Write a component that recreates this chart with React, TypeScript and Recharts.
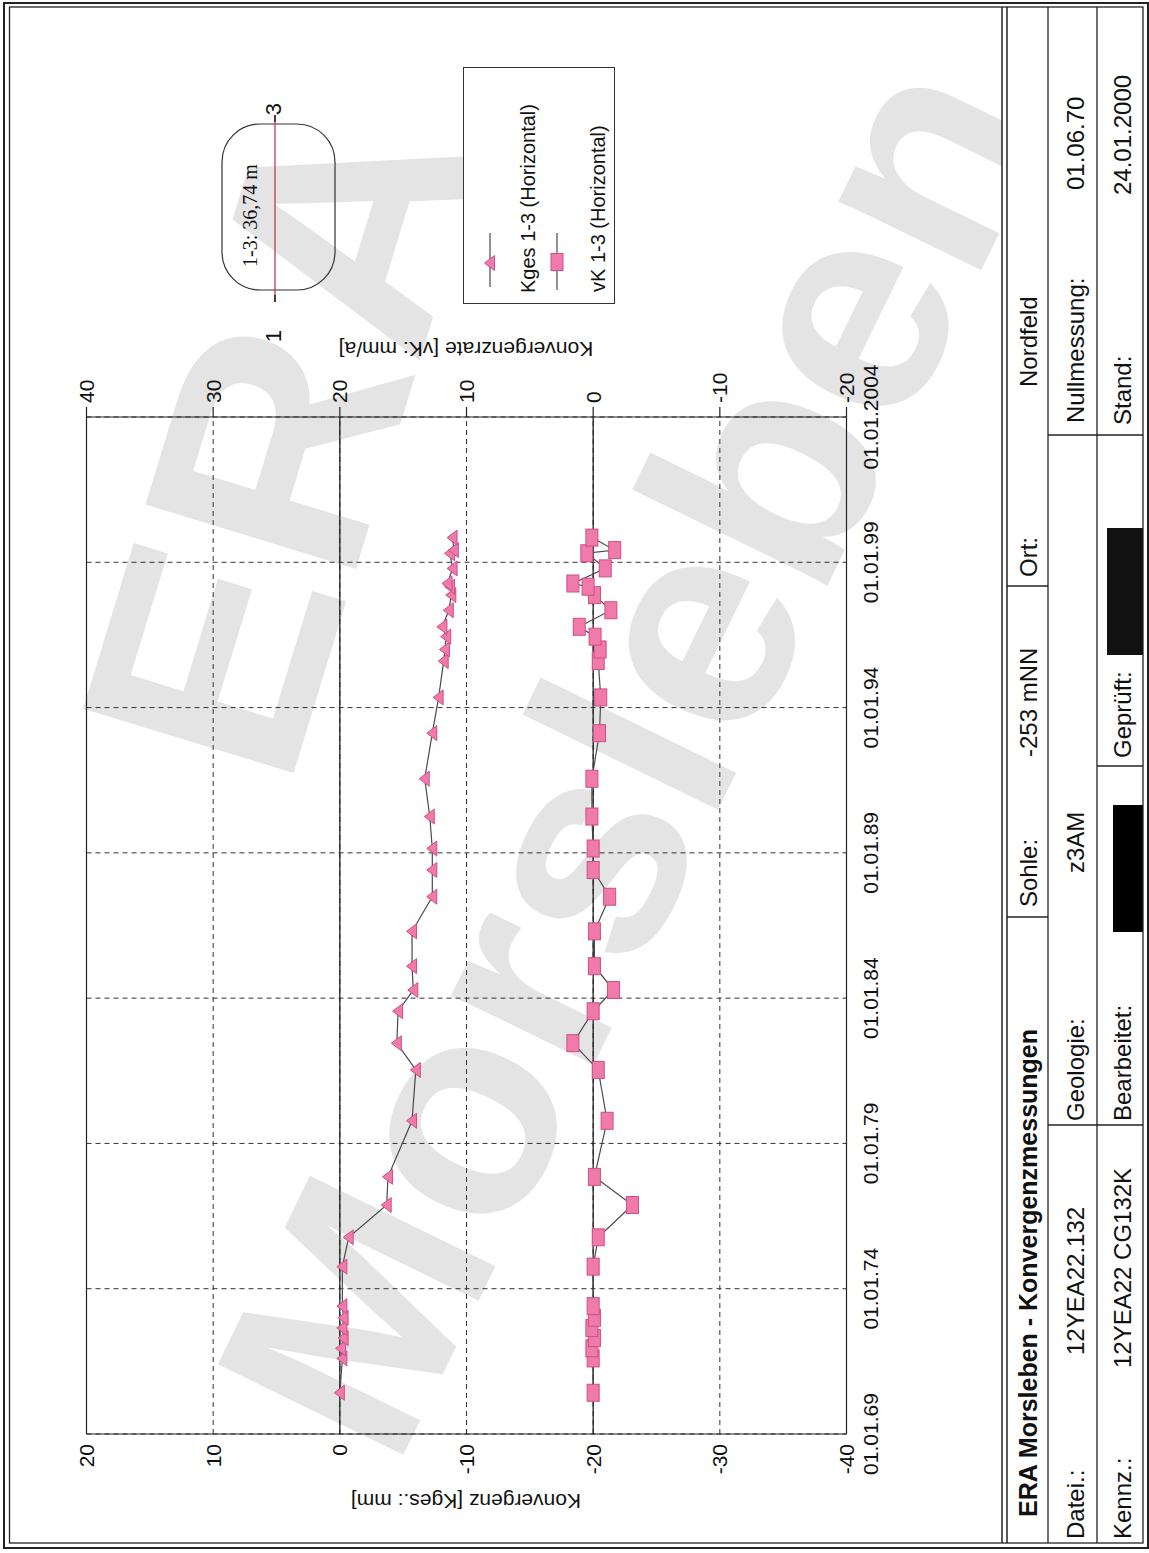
import React from 'react';
import { ComposedChart, Line, XAxis, YAxis, CartesianGrid, ReferenceLine, Legend } from 'recharts';

// ---------- data ----------
const measurementDates = [1970.42, 1971.6, 1971.95, 1972.3, 1972.65, 1973.0, 1973.4, 1974.76, 1975.77, 1976.88, 1977.85, 1979.78, 1981.53, 1982.45, 1983.55, 1984.28, 1985.1, 1986.3, 1987.49, 1988.41, 1989.15, 1990.25, 1991.55, 1993.12, 1994.35, 1995.6, 1996.0, 1996.44, 1996.78, 1997.35, 1997.87, 1998.16, 1998.27, 1998.79, 1999.31, 1999.42, 1999.85];
const kgesValues = [0, -0.2, -0.1, -0.3, -0.2, -0.3, -0.2, -0.2, -0.7, -3.7, -3.8, -5.7, -6.0, -4.5, -4.6, -5.8, -5.7, -5.7, -7.3, -7.3, -7.3, -7.1, -6.7, -7.3, -7.8, -8.2, -8.3, -8.4, -8.1, -8.6, -8.8, -8.7, -8.5, -8.9, -8.7, -9.0, -8.9];
const vkValues = [0, 0, 0.1, -0.1, 0.1, -0.1, 0, 0, -0.4, -3.1, -0.1, -1.1, -0.4, 1.6, 0, -1.6, -0.1, -0.1, -1.3, 0, 0, 0.1, 0.1, -0.5, -0.6, -0.4, -0.55, -0.15, 1.1, -1.4, -0.1, 0.4, 1.6, -0.95, 0.5, -1.7, 0.1];

const dateTicks = [1969, 1974, 1979, 1984, 1989, 1994, 1999, 2004];
const dateTickLabels = ['01.01.69', '01.01.74', '01.01.79', '01.01.84', '01.01.89', '01.01.94', '01.01.99', '01.01.2004'];
const kgesTicks = [-40, -30, -20, -10, 0, 10, 20];
const vkTicks = [-20, -10, 0, 10, 20, 30, 40];
const seriesNames = ['Kges 1-3 (Horizontal)', 'vK 1-3 (Horizontal)'];
const axisTitles = ['Konvergenz [Kges.: mm]', 'Konvergenzrate [vK: mm/a]'];

const data = measurementDates.map((t, i) => ({ t, kges: kgesValues[i], vk: vkValues[i] }));

// ---------- layout (landscape page, rotated onto the portrait canvas) ----------
const W = 1553;
const H = 1149;
const PLOT_LEFT = 119;
const PLOT_RIGHT = 1136;
const PLOT_TOP = 86.5;
const PLOT_BOTTOM = 846.5;
const YAXIS_W = 60;
const XAXIS_H = 40;
const FONT = '"Liberation Sans", Arial, sans-serif';
const SERIF = '"Liberation Serif", "Times New Roman", serif';
const PINK = '#f07aaa';
const PINK_DARK = '#cf4f87';
const LINE = '#4a4a4a';

const Tri = (p: any) => {
  const { cx, cy } = p;
  if (cx == null || cy == null) return null;
  return (
    <path
      key={`tri-${p.index}-${cx}`}
      d={`M${cx},${cy - 5.5} L${cx + 7.5},${cy + 4.5} L${cx - 7.5},${cy + 4.5} Z`}
      fill={PINK}
      stroke={PINK_DARK}
      strokeWidth={1}
    />
  );
};

const Sq = (p: any) => {
  const { cx, cy } = p;
  if (cx == null || cy == null) return null;
  return (
    <rect
      key={`sq-${p.index}-${cx}`}
      x={cx - 8.5}
      y={cy - 6}
      width={17}
      height={12}
      fill={PINK}
      stroke={PINK_DARK}
      strokeWidth={1}
    />
  );
};

const DateTick = (p: any) => {
  const i = dateTicks.indexOf(p.payload.value);
  return (
    <text x={p.x} y={PLOT_BOTTOM + 31} textAnchor="middle" fontSize={21} fill="#111" fontFamily={FONT}>
      {dateTickLabels[i]}
    </text>
  );
};

const LeftTick = (p: any) => (
  <text x={PLOT_LEFT - 10} y={p.y + 7.5} textAnchor="end" fontSize={21} fill="#111" fontFamily={FONT}>
    {p.payload.value}
  </text>
);

const RightTick = (p: any) => (
  <text x={PLOT_RIGHT + 14} y={p.y + 7.5} textAnchor="start" fontSize={21} fill="#111" fontFamily={FONT}>
    {p.payload.value}
  </text>
);

const LegendBox = () => (
  <svg width={237} height={152} style={{ display: 'block', overflow: 'visible' }}>
    <rect x={0.5} y={0.5} width={236} height={151} fill="#fff" stroke="#333" strokeWidth={1} />
    <line x1={17} x2={71} y1={27} y2={27} stroke={LINE} strokeWidth={1.2} />
    <Tri cx={41} cy={27} index={0} />
    <text x={11} y={72} fontSize={20} fill="#111" fontFamily={FONT}>{seriesNames[0]}</text>
    <line x1={14} x2={71} y1={94} y2={94} stroke={LINE} strokeWidth={1.2} />
    <Sq cx={42} cy={94} index={0} />
    <text x={12} y={142} fontSize={20} fill="#111" fontFamily={FONT}>{seriesNames[1]}</text>
  </svg>
);

const txt = (x: number, y: number, s: string, size = 24, weight: any = 'normal') => (
  <text x={x} y={y} fontSize={size} fontWeight={weight} fill="#111" fontFamily={FONT}>{s}</text>
);

export default function App() {
  return (
    <div style={{ position: 'absolute', left: 0, top: 0, width: 1149, height: 1553, overflow: 'hidden', background: '#fff' }}>
      <div
        style={{
          position: 'absolute',
          left: 0,
          top: 0,
          width: W,
          height: H,
          transformOrigin: '0 0',
          transform: `translateY(${W}px) rotate(-90deg)`,
        }}
      >
        {/* background: watermark */}
        <svg width={W} height={H} style={{ position: 'absolute', left: 0, top: 0 }}>
          <rect x={0} y={0} width={W} height={H} fill="#fff" />
          <text
            transform="translate(1115,280) rotate(17)"
            textAnchor="middle"
            dominantBaseline="central"
            fontSize={320}
            fontWeight="bold"
            fill="#e4e4e4"
            fontFamily={FONT}
          >
            ERA
          </text>
          <text
            transform="translate(800,630) rotate(26)"
            textAnchor="middle"
            dominantBaseline="central"
            fontSize={300}
            fontWeight="bold"
            fill="#e4e4e4"
            fontFamily={FONT}
          >
            Morsleben
          </text>
        </svg>

        {/* the chart */}
        <div style={{ position: 'absolute', left: 0, top: 0 }}>
          <ComposedChart
            width={W}
            height={H}
            data={data}
            margin={{
              left: PLOT_LEFT - YAXIS_W,
              right: W - PLOT_RIGHT - YAXIS_W,
              top: PLOT_TOP,
              bottom: H - PLOT_BOTTOM - XAXIS_H,
            }}
          >
            <CartesianGrid yAxisId="k" stroke="#333" strokeDasharray="5 4" strokeWidth={1} />
            <XAxis
              dataKey="t"
              type="number"
              domain={[1969, 2004]}
              ticks={dateTicks}
              allowDataOverflow
              height={XAXIS_H}
              tickSize={0}
              tickMargin={0}
              tickLine={false}
              axisLine={{ stroke: '#222', strokeWidth: 1.2 }}
              tick={<DateTick />}
              interval={0}
            />
            <YAxis
              yAxisId="k"
              orientation="left"
              domain={[-40, 20]}
              ticks={kgesTicks}
              allowDataOverflow
              width={YAXIS_W}
              tickSize={0}
              tickMargin={0}
              tickLine={false}
              axisLine={{ stroke: '#222', strokeWidth: 1.2 }}
              tick={<LeftTick />}
              interval={0}
            />
            <YAxis
              yAxisId="v"
              orientation="right"
              domain={[-20, 40]}
              ticks={vkTicks}
              allowDataOverflow
              width={YAXIS_W}
              tickSize={10}
              tickMargin={0}
              tickLine={{ stroke: '#222', strokeWidth: 1.2 }}
              axisLine={{ stroke: '#222', strokeWidth: 1.2 }}
              tick={<RightTick />}
              interval={0}
            />
            <ReferenceLine yAxisId="k" y={20} stroke="#222" strokeWidth={1.2} />
            <ReferenceLine yAxisId="k" y={0} stroke="#222" strokeWidth={1.3} />
            <ReferenceLine yAxisId="v" y={0} stroke="#222" strokeWidth={1.3} />
            <Legend
              layout="horizontal"
              verticalAlign="middle"
              align="center"
              wrapperStyle={{ position: 'absolute', left: 1249, top: 463, width: 237, height: 152 }}
              content={() => <LegendBox />}
            />
            <Line
              yAxisId="k"
              dataKey="kges"
              name={seriesNames[0]}
              stroke={LINE}
              strokeWidth={1.2}
              dot={(p: any) => <Tri {...p} />}
              activeDot={false}
              isAnimationActive={false}
            />
            <Line
              yAxisId="v"
              dataKey="vk"
              name={seriesNames[1]}
              stroke={LINE}
              strokeWidth={1.2}
              dot={(p: any) => <Sq {...p} />}
              activeDot={false}
              isAnimationActive={false}
            />
          </ComposedChart>
        </div>

        {/* foreground: axis titles, inset, frame, title block */}
        <svg width={W} height={H} style={{ position: 'absolute', left: 0, top: 0, pointerEvents: 'none' }}>
          <text transform="translate(52,466) rotate(-90)" textAnchor="middle" dominantBaseline="central" fontSize={21} fill="#111" fontFamily={FONT}>
            {axisTitles[0]}
          </text>
          <text transform="translate(1204,466) rotate(-90)" textAnchor="middle" dominantBaseline="central" fontSize={21} fill="#111" fontFamily={FONT}>
            {axisTitles[1]}
          </text>

          {/* cross-section inset */}
          <rect x={1263} y={222} width={166} height={113} rx={38} ry={38} fill="none" stroke="#333" strokeWidth={1.2} />
          <line x1={1251} x2={1438} y1={275} y2={275} stroke="#c23a50" strokeWidth={1.3} />
          <line x1={1251} x2={1258} y1={275} y2={275} stroke="#222" strokeWidth={1.5} />
          <line x1={1431} x2={1438} y1={275} y2={275} stroke="#222" strokeWidth={1.5} />
          <text x={1286} y={257} fontSize={20} fill="#111" fontFamily={SERIF}>1-3: 36,74 m</text>
          <text x={1217} y={281} textAnchor="middle" fontSize={22} fill="#111" fontFamily={FONT}>1</text>
          <text x={1444} y={281} textAnchor="middle" fontSize={22} fill="#111" fontFamily={FONT}>3</text>

          {/* title block */}
          <rect x={10} y={1002} width={1536} height={141} fill="#fff" />
          <line x1={10} x2={1546} y1={1002} y2={1002} stroke="#222" strokeWidth={1.5} />
          <line x1={10} x2={1546} y1={1007} y2={1007} stroke="#222" strokeWidth={1.5} />
          <line x1={10} x2={1546} y1={1048} y2={1048} stroke="#222" strokeWidth={1.3} />
          <line x1={10} x2={1546} y1={1097} y2={1097} stroke="#222" strokeWidth={1.3} />
          <line x1={636} x2={636} y1={1007} y2={1048} stroke="#222" strokeWidth={1.3} />
          <line x1={967} x2={967} y1={1007} y2={1048} stroke="#222" strokeWidth={1.3} />
          <line x1={428} x2={428} y1={1048} y2={1143} stroke="#222" strokeWidth={1.3} />
          <line x1={1118} x2={1118} y1={1048} y2={1143} stroke="#222" strokeWidth={1.3} />
          <line x1={787} x2={787} y1={1097} y2={1143} stroke="#222" strokeWidth={1.3} />

          {txt(36, 1037, 'ERA Morsleben - Konvergenzmessungen', 25, 'bold')}
          {txt(646, 1037, 'Sohle:')}
          {txt(796, 1037, '-253 mNN')}
          {txt(976, 1037, 'Ort:')}
          {txt(1166, 1037, 'Nordfeld')}

          {txt(14, 1084, 'Datei.:')}
          {txt(198, 1084, '12YEA22.132')}
          {txt(432, 1084, 'Geologie:')}
          {txt(680, 1084, 'z3AM')}
          {txt(1130, 1084, 'Nullmessung:')}
          {txt(1363, 1084, '01.06.70')}

          {txt(14, 1131, 'Kennz.:')}
          {txt(185, 1131, '12YEA22  CG132K')}
          {txt(432, 1131, 'Bearbeitet:')}
          <rect x={621} y={1113} width={127} height={30} fill="#000" />
          {txt(795, 1131, 'Geprüft:')}
          <rect x={898} y={1107} width={127} height={36} fill="#111" />
          {txt(1128, 1131, 'Stand:')}
          {txt(1358, 1131, '24.01.2000')}

          {/* page frame */}
          <rect x={5} y={4} width={1545} height={1144} fill="none" stroke="#222" strokeWidth={2} />
          <rect x={10} y={9.5} width={1536} height={1133.5} fill="none" stroke="#222" strokeWidth={1.3} />
        </svg>
      </div>
    </div>
  );
}
